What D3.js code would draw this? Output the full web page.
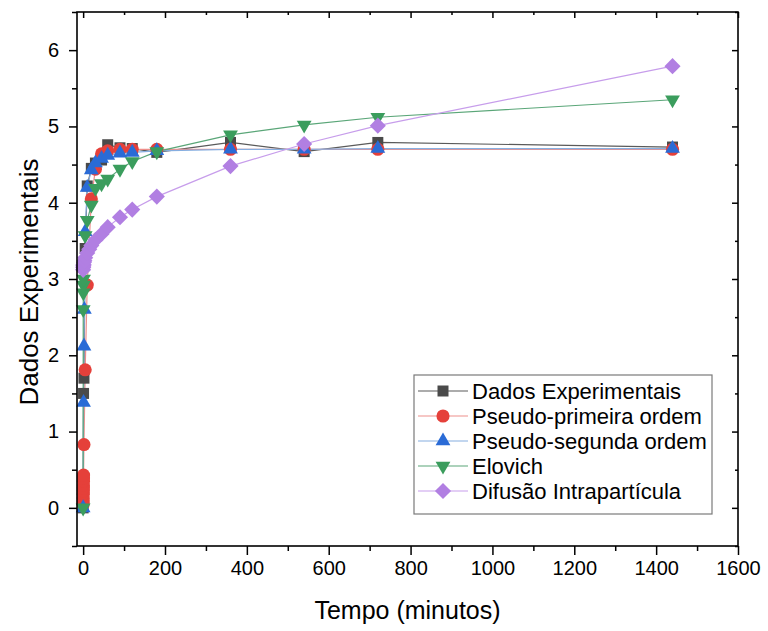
<!DOCTYPE html>
<html>
<head>
<meta charset="utf-8">
<script src="https://cdn.jsdelivr.net/npm/d3@7/dist/d3.min.js"></script>
<style>
  html, body { margin: 0; padding: 0; background: #fff; }
  svg { display: block; font-family: "Liberation Sans", Arial, sans-serif; }
</style>
</head>
<body>
<svg id="chart" width="768" height="631"></svg>
<script>
// Adsorption kinetics: experimental data and fitted models (time in minutes)
const expTime  = [0, 1, 2, 5, 10, 20, 30, 45, 60, 90, 120, 180, 360, 540, 720, 1440];
const expQ     = [0, 1.50, 1.70, 3.40, 4.22, 4.45, 4.52, 4.56, 4.76, 4.72, 4.71, 4.66, 4.79, 4.67, 4.79, 4.73];

const pfoTime  = [0.1, 0.2, 0.3, 0.4, 0.5, 0.6, 0.7, 0.8, 0.9, 1, 2, 5, 10, 20, 30, 45, 60, 90, 120, 180, 360, 540, 720, 1440];
const pfoQ     = [0.05, 0.09, 0.13, 0.18, 0.22, 0.26, 0.30, 0.35, 0.39, 0.43, 0.83, 1.81, 2.92, 4.05, 4.44, 4.64, 4.68, 4.70, 4.70, 4.70, 4.70, 4.70, 4.70, 4.70];

const psoTime  = [0, 1, 2, 3, 5, 10, 20, 30, 45, 60, 90, 120, 180, 360, 540, 720, 1440];
const psoQ     = [0, 1.38, 2.12, 2.60, 3.62, 4.20, 4.43, 4.52, 4.58, 4.62, 4.65, 4.66, 4.68, 4.70, 4.70, 4.71, 4.71];

const eloTime  = [0, 0.25, 0.5, 0.75, 1, 5, 10, 20, 30, 45, 60, 90, 120, 180, 360, 540, 720, 1440];
const eloQ     = [0, 2.60, 2.82, 2.92, 3.00, 3.57, 3.77, 3.97, 4.19, 4.25, 4.31, 4.44, 4.54, 4.67, 4.89, 5.02, 5.12, 5.35];

const difTime  = [0, 0.25, 0.5, 0.75, 1, 2, 3, 5, 10, 15, 20, 30, 45, 60, 90, 120, 180, 360, 540, 720, 1440];
const difQ     = [3.12, 3.15, 3.17, 3.18, 3.19, 3.22, 3.24, 3.28, 3.34, 3.39, 3.44, 3.51, 3.59, 3.68, 3.81, 3.91, 4.08, 4.48, 4.77, 5.01, 5.79];

const seriesNames = ["Dados Experimentais", "Pseudo-primeira ordem", "Pseudo-segunda ordem", "Elovich", "Difusão Intrapartícula"];

const xTicks = [0, 200, 400, 600, 800, 1000, 1200, 1400, 1600];
const yTicks = [0, 1, 2, 3, 4, 5, 6];

// equal-diagonal diamond and up/down triangle symbol types
const symDiamond = {
  draw(ctx, size) {
    const r = Math.sqrt(size / 2);
    ctx.moveTo(0, -r); ctx.lineTo(r, 0); ctx.lineTo(0, r); ctx.lineTo(-r, 0); ctx.closePath();
  }
};
const symTriUp = {
  draw(ctx, size) {
    const s = Math.sqrt(size * 4 / Math.sqrt(3));
    const h = s * Math.sqrt(3) / 2;
    ctx.moveTo(0, -h * 2 / 3); ctx.lineTo(s / 2, h / 3); ctx.lineTo(-s / 2, h / 3); ctx.closePath();
  }
};
const symTriDown = {
  draw(ctx, size) {
    const s = Math.sqrt(size * 4 / Math.sqrt(3));
    const h = s * Math.sqrt(3) / 2;
    ctx.moveTo(0, h * 2 / 3); ctx.lineTo(s / 2, -h / 3); ctx.lineTo(-s / 2, -h / 3); ctx.closePath();
  }
};

const series = [
  { name: seriesNames[0], t: expTime, q: expQ, type: d3.symbolSquare, size: 121, fill: "#4a4a4a", line: "#5a5a5a" },
  { name: seriesNames[1], t: pfoTime, q: pfoQ, type: d3.symbolCircle, size: 135, fill: "#e5403a", line: "#ee8f8b" },
  { name: seriesNames[2], t: psoTime, q: psoQ, type: symTriUp, size: 95, fill: "#2a6bd6", line: "#86aee0" },
  { name: seriesNames[3], t: eloTime, q: eloQ, type: symTriDown, size: 95, fill: "#3b9d5d", line: "#5aa678" },
  { name: seriesNames[4], t: difTime, q: difQ, type: symDiamond, size: 130, fill: "#b17fe2", line: "#c79deb" }
];

const svg = d3.select("#chart");
const plotL = 77, plotR = 738, plotT = 12, plotB = 546;

const x = d3.scaleLinear().domain([-15, 1600]).range([plotL, plotR]);
const y = d3.scaleLinear().domain([-0.5, 6.5]).range([plotB, plotT]);

const line = d3.line().x(d => x(d[0])).y(d => y(d[1]));

// connecting lines
series.forEach(s => {
  svg.append("path")
    .datum(d3.zip(s.t, s.q))
    .attr("d", line)
    .attr("fill", "none")
    .attr("stroke", s.line)
    .attr("stroke-width", 1.2);
});

// markers
series.forEach(s => {
  const sym = d3.symbol().type(s.type).size(s.size);
  svg.append("g").selectAll("path")
    .data(d3.zip(s.t, s.q))
    .join("path")
    .attr("transform", d => `translate(${x(d[0])},${y(d[1])})`)
    .attr("d", sym)
    .attr("fill", s.fill);
});

// axes
const xMinor = d3.range(100, 1600, 200);
const yMinor = d3.range(-0.5, 6.51, 1);
const axisFont = 20;

const gx = svg.append("g").attr("transform", `translate(0,${plotB})`)
  .call(d3.axisBottom(x).tickValues(xTicks).tickSize(9).tickPadding(6).tickFormat(d3.format("d")));
const gxm = svg.append("g").attr("transform", `translate(0,${plotB})`)
  .call(d3.axisBottom(x).tickValues(xMinor).tickSize(5).tickFormat(""));
const gy = svg.append("g").attr("transform", `translate(${plotL},0)`)
  .call(d3.axisLeft(y).tickValues(yTicks).tickSize(8).tickPadding(10).tickFormat(d3.format("d")));
const gym = svg.append("g").attr("transform", `translate(${plotL},0)`)
  .call(d3.axisLeft(y).tickValues(yMinor).tickSize(5).tickFormat(""));
const gt = svg.append("g").attr("transform", `translate(0,${plotT})`)
  .call(d3.axisTop(x).tickValues(xTicks).tickSize(-6).tickFormat(""));
const gtm = svg.append("g").attr("transform", `translate(0,${plotT})`)
  .call(d3.axisTop(x).tickValues(xMinor).tickSize(-3).tickFormat(""));
const gr = svg.append("g").attr("transform", `translate(${plotR},0)`)
  .call(d3.axisRight(y).tickValues(yTicks).tickSize(-6).tickFormat(""));
const grm = svg.append("g").attr("transform", `translate(${plotR},0)`)
  .call(d3.axisRight(y).tickValues(yMinor).tickSize(-3).tickFormat(""));

[gx, gxm, gy, gym, gt, gtm, gr, grm].forEach(g => {
  g.select(".domain").remove();
  g.selectAll(".tick line").attr("stroke", "#000").attr("stroke-width", 1.5);
  g.selectAll("text").attr("fill", "#000").style("font-size", axisFont + "px")
    .style("font-family", "'Liberation Sans', Arial, sans-serif");
});

// frame
svg.append("rect")
  .attr("x", plotL).attr("y", plotT)
  .attr("width", plotR - plotL).attr("height", plotB - plotT)
  .attr("fill", "none").attr("stroke", "#000").attr("stroke-width", 1.6);

// axis titles
svg.append("text")
  .attr("x", (plotL + plotR) / 2).attr("y", 619)
  .attr("text-anchor", "middle")
  .style("font-size", "25px")
  .text("Tempo (minutos)");

svg.append("text")
  .attr("transform", "translate(38,282) rotate(-90)")
  .attr("text-anchor", "middle")
  .style("font-size", "26px")
  .text("Dados Experimentais");

// legend
const lg = svg.append("g");
lg.append("rect")
  .attr("x", 414).attr("y", 375).attr("width", 298).attr("height", 139)
  .attr("fill", "#fff").attr("stroke", "#7a7a7a").attr("stroke-width", 1.2);

series.forEach((s, i) => {
  const cy = 391 + i * 25;
  lg.append("line")
    .attr("x1", 418).attr("x2", 468).attr("y1", cy).attr("y2", cy)
    .attr("stroke", s.line).attr("stroke-width", 1.2);
  lg.append("path")
    .attr("transform", `translate(443,${cy})`)
    .attr("d", d3.symbol().type(s.type).size(s.size))
    .attr("fill", s.fill);
  lg.append("text")
    .attr("x", 472).attr("y", cy + 7.5)
    .style("font-size", "22px")
    .text(s.name);
});
</script>
</body>
</html>
